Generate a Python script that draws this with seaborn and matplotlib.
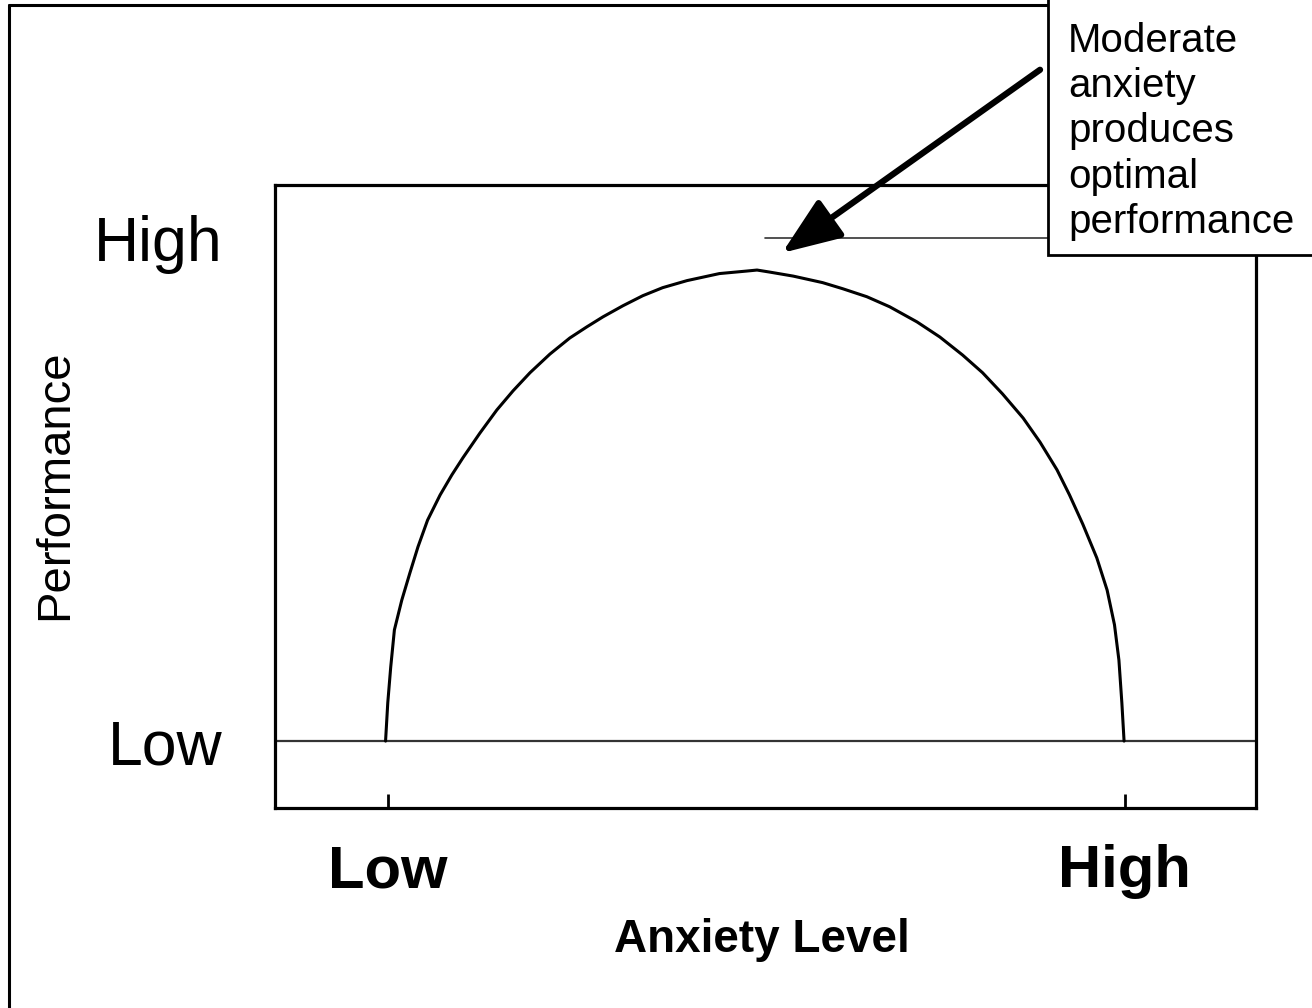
"""Inverted-U: anxiety level vs performance (Yerkes-Dodson style sketch)."""

import matplotlib.pyplot as plt
import pandas as pd
import seaborn as sns
from matplotlib.lines import Line2D
from matplotlib.patches import Rectangle

# curve (Low anxiety = 0, High = 10; Low perf = 0, High = 10)
anxiety = [-0.03, 0.0, 0.04, 0.09, 0.19, 0.30, 0.41, 0.54, 0.71, 0.87, 1.02,
           1.25, 1.48, 1.70, 1.93, 2.20, 2.47, 2.70, 2.92, 3.19, 3.46, 3.73,
           4.06, 4.50, 4.87, 5.01,
           5.18, 5.50, 5.90, 6.17, 6.50, 6.81, 7.18, 7.49, 7.80, 8.07, 8.34,
           8.62, 8.85, 9.08, 9.25, 9.43, 9.62, 9.76, 9.86, 9.92, 9.96, 9.99]
performance = [0.0, 0.76, 1.47, 2.21, 2.80, 3.34, 3.86, 4.39, 4.89, 5.29, 5.63,
               6.12, 6.58, 6.96, 7.32, 7.69, 8.01, 8.23, 8.43, 8.65, 8.85, 9.01,
               9.15, 9.29, 9.34, 9.36,
               9.32, 9.24, 9.11, 8.99, 8.83, 8.63, 8.33, 8.03, 7.67, 7.32, 6.90,
               6.42, 5.94, 5.39, 4.89, 4.31, 3.64, 3.00, 2.31, 1.61, 0.76, 0.0]

x_ticks = [0, 10]
x_tick_labels = ["Low", "High"]
y_ticks = [0, 10]
y_tick_labels = ["Low", "High"]

peak_point = (5.35, 9.7)       # where the arrow points
note_anchor = (8.85, 13.34)    # arrow tail, up near the note box
note_text = "Moderate\nanxiety\nproduces\noptimal\nperformance"

W, H = 1312, 1008


def main() -> None:
    sns.set_theme(style="white")
    plt.rcParams["font.family"] = ["Liberation Sans", "DejaVu Sans"]
    plt.rcParams.update({"text.color": "black", "axes.labelcolor": "black",
                         "xtick.color": "black", "ytick.color": "black"})

    df = pd.DataFrame({"anxiety": anxiety, "performance": performance})

    fig = plt.figure(figsize=(W / 100, H / 100), dpi=100)
    ax = fig.add_axes([275 / W, 1 - 808 / H, 981 / W, 623 / H])

    sns.lineplot(data=df, x="anxiety", y="performance", sort=False,
                 estimator=None, color="black", lw=2.2, ax=ax)

    # baseline at "Low" and reference line at "High"
    ax.axhline(y_ticks[0], color="#333333", lw=1.6, zorder=1)
    ax.axhline(y_ticks[1], xmin=(765 - 275) / 981, color="#333333", lw=1.2)

    ax.set_xlim(-1.53, 11.78)
    ax.set_ylim(-1.33, 11.05)

    ax.set_xticks(x_ticks, x_tick_labels, fontsize=43, fontweight="bold")
    ax.set_yticks(y_ticks, y_tick_labels, fontsize=45)
    ax.tick_params(axis="x", direction="in", length=10, width=2, pad=26,
                   bottom=True)
    ax.tick_params(axis="y", length=0, pad=38)

    ax.set_xlabel("Anxiety Level", fontsize=33, fontweight="bold")
    ax.set_ylabel("Performance", fontsize=34)
    ax.xaxis.set_label_coords((762 - 275) / 981, (808 - 918) / 623)
    ax.yaxis.set_label_coords((55 - 275) / 981, (808 - 485) / 623)
    ax.yaxis.label.set_va("center")

    for spine in ax.spines.values():
        spine.set_color("black")
        spine.set_linewidth(2.3)

    ax.annotate("", xy=peak_point, xytext=note_anchor, annotation_clip=False,
                arrowprops=dict(arrowstyle="-|>,head_length=0.9,head_width=0.35",
                                color="black", lw=4.5, mutation_scale=40,
                                shrinkA=0, shrinkB=0))

    # note box hanging off the top-right corner
    fig.add_artist(Rectangle((1048 / W, 1 - 255 / H), 0.5, 0.5,
                             transform=fig.transFigure, facecolor="white",
                             edgecolor="black", lw=2, zorder=5))
    fig.text(1068 / W, 1 - 22 / H, note_text, fontsize=29, va="top",
             ha="left", linespacing=1.24, zorder=6)

    # outer frame (left and top edges only show)
    fig.add_artist(Line2D([9 / W, 9 / W], [0, 1 - 5 / H], color="black", lw=2.2,
                          transform=fig.transFigure))
    fig.add_artist(Line2D([9 / W, 1048 / W], [1 - 5 / H, 1 - 5 / H], color="black",
                          lw=2.2, transform=fig.transFigure))

    fig.savefig("out.png", dpi=100)
    plt.close(fig)


if __name__ == "__main__":
    main()
